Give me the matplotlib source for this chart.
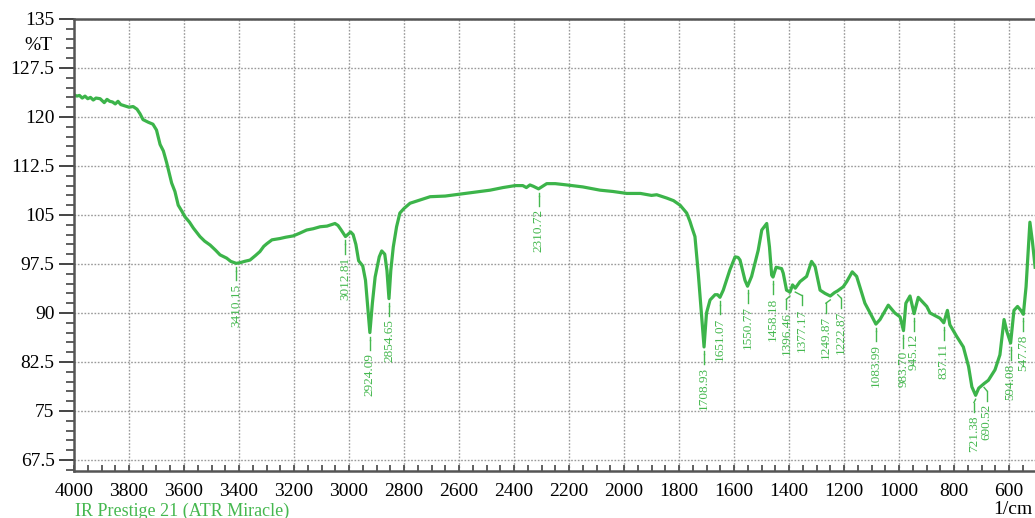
import numpy as np
import matplotlib
matplotlib.use("Agg")
from matplotlib import pyplot as plt
from matplotlib.ticker import MultipleLocator

plt.rcParams['font.family'] = ['Liberation Serif', 'DejaVu Serif']

# IR spectrum, wavenumber (1/cm) and transmittance (%T)
wavenumber = [
    4000, 3990, 3980, 3970, 3960, 3950, 3940, 3930, 3920, 3905, 3895, 3890,
    3880, 3870, 3860, 3850, 3840, 3830, 3815, 3800, 3785, 3771, 3760, 3749,
    3730, 3713, 3700, 3687, 3675, 3663, 3645, 3633, 3621, 3608, 3596, 3580,
    3566, 3542, 3525, 3505, 3485, 3469, 3445, 3430, 3410.15, 3396, 3380, 3360,
    3340, 3324, 3310, 3299, 3280, 3251, 3230, 3203, 3180, 3154, 3130, 3105,
    3080, 3051, 3040, 3030, 3012.81, 2994, 2985, 2975, 2965, 2950, 2940, 2930,
    2924.09, 2915, 2905, 2890, 2881, 2870, 2862, 2854.65, 2848, 2839, 2827, 2815,
    2800, 2778, 2742, 2705, 2650, 2596, 2540, 2487, 2440, 2396, 2368, 2355,
    2342, 2330, 2310.72, 2281, 2250, 2208, 2150, 2087, 2040, 1990, 1940, 1900,
    1881, 1845, 1820, 1796, 1772, 1760, 1754, 1742, 1730, 1717, 1708.93, 1700,
    1687, 1669, 1660, 1651.07, 1639, 1615, 1596, 1585, 1578, 1560, 1550.77, 1536,
    1512, 1499, 1490, 1481, 1471, 1463, 1458.18, 1447, 1427, 1421, 1409, 1396.46,
    1387, 1377.17, 1360, 1336, 1318, 1305, 1287, 1269, 1249.87, 1235, 1222.87, 1203,
    1190, 1170, 1154, 1124, 1105, 1083.99, 1069, 1039, 1015, 996, 983.70, 975,
    960, 945.12, 930, 899, 887, 851, 837.11, 824, 815, 790, 766, 747,
    735, 721.38, 710, 690.52, 675, 651, 633, 618, 608, 594.08, 582, 569,
    557, 547.78, 538, 524, 515, 505,
]
transmittance = [
    123.4, 123.2, 123.3, 122.9, 123.2, 122.8, 123.0, 122.6, 122.9, 122.8, 122.4, 122.2,
    122.7, 122.4, 122.3, 122.0, 122.4, 121.9, 121.7, 121.5, 121.6, 121.2, 120.5, 119.6,
    119.2, 118.9, 118.0, 115.8, 114.8, 113.0, 109.9, 108.6, 106.5, 105.6, 104.7, 103.9,
    103.0, 101.7, 101.0, 100.4, 99.6, 98.9, 98.4, 97.9, 97.6, 97.7, 97.9, 98.1,
    98.8, 99.4, 100.2, 100.6, 101.2, 101.4, 101.6, 101.8, 102.2, 102.7, 102.9, 103.2,
    103.3, 103.7, 103.4, 102.8, 101.7, 102.4, 102.0, 100.5, 98.0, 97.2, 95.0, 90.0,
    87.0, 91.5, 95.5, 98.6, 99.5, 99.0, 96.5, 92.2, 96.5, 100.1, 103.2, 105.3,
    106.0, 106.8, 107.3, 107.8, 107.9, 108.2, 108.5, 108.8, 109.2, 109.5, 109.5, 109.2,
    109.6, 109.4, 109.0, 109.8, 109.8, 109.6, 109.3, 108.8, 108.6, 108.3, 108.3, 108.0,
    108.1, 107.6, 107.2, 106.5, 105.3, 104.0, 103.2, 101.7, 96.1, 89.0, 84.8, 90.0,
    92.0, 92.8, 92.8, 92.4, 93.5, 96.6, 98.6, 98.5, 98.1, 95.0, 94.1, 95.6,
    99.6, 102.7, 103.2, 103.7, 100.1, 95.8, 95.5, 97.0, 96.8, 96.1, 93.5, 93.2,
    94.3, 93.8, 94.8, 95.6, 97.9, 97.1, 93.5, 93.0, 92.6, 93.1, 93.4, 94.0,
    94.8, 96.3, 95.6, 91.5, 90.0, 88.3, 89.0, 91.2, 90.0, 89.4, 87.3, 91.5,
    92.6, 89.9, 92.4, 91.0, 90.0, 89.2, 88.5, 90.4, 88.2, 86.4, 84.8, 81.8,
    78.7, 77.4, 78.5, 79.2, 79.7, 81.3, 83.6, 89.0, 87.2, 85.4, 90.4, 91.0,
    90.4, 89.8, 94.0, 103.9, 101.0, 97.0,
]

# peak picks
peaks = [3410.15, 3012.81, 2924.09, 2854.65, 2310.72, 1708.93, 1651.07, 1550.77,
         1458.18, 1396.46, 1377.17, 1249.87, 1222.87, 1083.99, 983.70, 945.12,
         837.11, 721.38, 690.52, 594.08, 547.78]
# sideways shift of crowded labels (1/cm)
label_shift = {1396.46: 13, 1377.17: -23, 1249.87: 16, 1222.87: -12,
               721.38: 6, 690.52: -10}

green = '#3cb44a'
label_green = '#45b84f'

fig = plt.figure(figsize=(10.35, 5.18), dpi=100)
ax = fig.add_axes([74 / 1035, 1 - 471 / 518, 1 - 74 / 1035, 452 / 518])

ax.plot(wavenumber, transmittance, color=green, lw=2.3, solid_joinstyle='round')

ax.set_xlim(4000, 4000 - (1035 - 74) / 0.275)
ax.set_ylim(135 - 452 / 6.5333, 135)

ax.xaxis.set_minor_locator(MultipleLocator(50))
ax.yaxis.set_minor_locator(MultipleLocator(1.5))
ax.set_yticks([67.5, 75, 82.5, 90, 97.5, 105, 112.5, 120, 127.5, 135])
ax.set_yticklabels(['67.5', '75', '82.5', '90', '97.5', '105', '112.5', '120', '127.5', '135'])
ax.set_xticks(np.arange(4000, 500, -200))
ax.set_xticklabels([str(v) for v in range(4000, 500, -200)])

ax.tick_params(axis='y', which='major', direction='out', length=11, width=1.4,
               color='#444444', labelsize=14, pad=3)
ax.tick_params(axis='y', which='minor', direction='out', length=5.5, width=1.2,
               color='#444444')
ax.tick_params(axis='x', which='major', direction='in', length=4, width=1.2,
               color='#444444', labelsize=14, pad=9)
ax.tick_params(axis='x', which='minor', direction='in', length=4, width=1.2,
               color='#444444')

for side in ['left', 'bottom', 'top']:
    ax.spines[side].set_color('#555555')
    ax.spines[side].set_linewidth(1.8)
ax.spines['right'].set_visible(False)

ax.grid(True, which='major', color='#9a9a9a', linestyle=(0, (1.2, 1.2)), linewidth=1.0)
ax.set_axisbelow(True)

# peak labels: short leader under the curve, value written upwards
for p in peaks:
    yc = np.interp(p, wavenumber[::-1], transmittance[::-1])
    xt = p + label_shift.get(p, 0)
    ax.plot([p, xt], [yc - 0.6, yc - 1.1], color=label_green, lw=1.0)
    ax.plot([xt, xt], [yc - 1.1, yc - 2.6], color=label_green, lw=1.0)
    ax.text(xt, yc - 3.1, f'{p:.2f}', rotation=90, ha='center', va='top',
            color=label_green, fontsize=9.5)

fig.text(52 / 1035, 1 - 45 / 518, '%T', ha='right', va='center', fontsize=14)
fig.text(1032 / 1035, 1 - 510 / 518, '1/cm', ha='right', va='center', fontsize=14)
fig.text(75 / 1035, 1 - 511 / 518, 'IR Prestige 21 (ATR Miracle)', ha='left',
         va='center', fontsize=13, color=label_green)

fig.savefig('out.png', dpi=100)
